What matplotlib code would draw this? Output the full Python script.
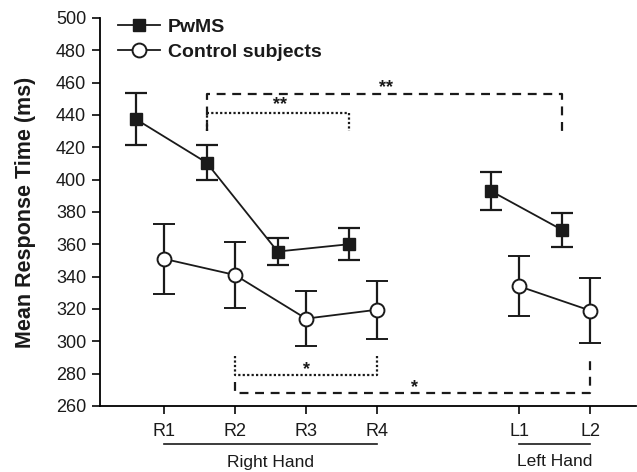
import matplotlib
matplotlib.use("Agg")
import matplotlib.pyplot as plt
from matplotlib.lines import Line2D
import matplotlib.transforms as mtransforms

plt.rcParams['font.family'] = ['Liberation Sans', 'DejaVu Sans']

categories = ["R1", "R2", "R3", "R4", "L1", "L2"]
positions = [1, 2, 3, 4, 6, 7]
pwms_mean = [437.5, 410.5, 355.5, 360.0, 393.0, 369.0]
pwms_err = [16.0, 11.0, 8.5, 10.0, 12.0, 10.5]
ctrl_mean = [351.0, 341.0, 314.0, 319.5, 334.0, 319.0]
ctrl_err = [21.5, 20.5, 17.0, 18.0, 18.5, 20.0]
offset = -0.4

fig = plt.figure(figsize=(6.37, 4.72), dpi=100)
ax = fig.add_axes([0.157, 0.14, 0.842, 0.822])

px = [p + offset for p in positions]
for idx in ([0, 1, 2, 3], [4, 5]):
    ax.errorbar([px[i] for i in idx], [pwms_mean[i] for i in idx],
                yerr=[pwms_err[i] for i in idx], color='#1a1a1a', lw=1.3,
                marker='s', ms=9, mfc='#1a1a1a', mec='#1a1a1a',
                capsize=8, capthick=1.6, elinewidth=1.6, zorder=3)
    ax.errorbar([positions[i] for i in idx], [ctrl_mean[i] for i in idx],
                yerr=[ctrl_err[i] for i in idx], color='#1a1a1a', lw=1.3,
                marker='o', ms=10, mfc='white', mec='#1a1a1a', mew=1.4,
                capsize=8, capthick=1.6, elinewidth=1.6, zorder=3)

ax.set_xlim(0.1, 7.65)
ax.set_ylim(260, 500)
ax.set_yticks(range(260, 501, 20))
ax.set_xticks(positions)
ax.set_xticklabels(categories)
ax.spines['top'].set_visible(False)
ax.spines['right'].set_visible(False)
for s in ('left', 'bottom'):
    ax.spines[s].set_linewidth(1.3)
ax.tick_params(axis='both', labelsize=13, width=1.3, length=6, color='#1a1a1a', labelcolor='#1a1a1a')
ax.tick_params(axis='x', pad=6)
ax.tick_params(axis='y', pad=4)
ax.set_ylabel("Mean Response Time (ms)", fontsize=15.5, fontweight='bold', labelpad=14, color='#1a1a1a')

c = '#1a1a1a'
ax.plot([1.6, 1.6, 6.6, 6.6], [430, 453, 453, 430], ls=(0, (4, 3)), color=c, lw=1.6)
ax.plot([1.6, 1.6, 3.6, 3.6], [430, 441, 441, 430], ls=(0, (1, 1)), color=c, lw=1.6)
ax.text(2.63, 441.0, "**", ha='center', va='bottom', fontsize=13, fontweight='bold', color=c)
ax.text(4.13, 451.5, "**", ha='center', va='bottom', fontsize=13, fontweight='bold', color=c)
ax.plot([2, 2, 4, 4], [291, 279, 279, 291], ls=(0, (1, 1)), color=c, lw=1.6)
ax.plot([2, 2, 7, 7], [275, 268, 268, 291], ls=(0, (4, 3)), color=c, lw=1.6)
ax.text(3.0, 277.5, "*", ha='center', va='bottom', fontsize=13, fontweight='bold', color=c)
ax.text(4.52, 266.0, "*", ha='center', va='bottom', fontsize=13, fontweight='bold', color=c)

trans = mtransforms.blended_transform_factory(ax.transData, fig.transFigure)
ax.add_line(Line2D([1, 4], [1 - 444/472] * 2, transform=trans, color=c, lw=1.2, clip_on=False))
ax.add_line(Line2D([6, 7], [1 - 444/472] * 2, transform=trans, color=c, lw=1.2, clip_on=False))
ax.text(2.5, 1 - 462/472, "Right Hand", transform=trans, ha='center', va='center', fontsize=12.5, color=c)
ax.text(6.5, 1 - 462/472, "Left Hand", transform=trans, ha='center', va='center', fontsize=12.5, color=c)

handles = [Line2D([], [], color=c, lw=1.3, marker='s', ms=9, mfc=c, mec=c),
           Line2D([], [], color=c, lw=1.3, marker='o', ms=10, mfc='white', mec=c, mew=1.4)]
leg = ax.legend(handles, ["PwMS", "Control subjects"], loc='upper left',
                bbox_to_anchor=(0.0, 1.045), frameon=False, handlelength=2.2,
                prop={'weight': 'bold', 'size': 14}, labelspacing=0.4, handletextpad=0.4)
for t in leg.get_texts():
    t.set_color(c)

fig.savefig("out.png", dpi=100)
